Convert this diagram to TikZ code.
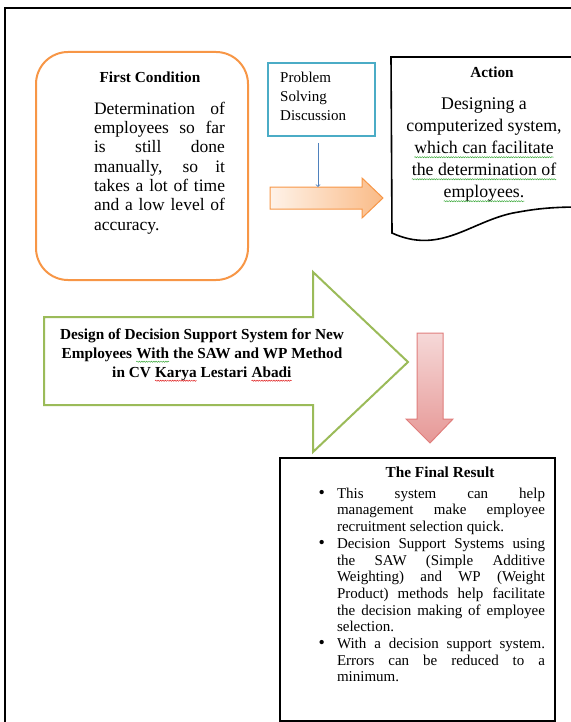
\documentclass[tikz,border=0pt]{standalone}
\usepackage{fontspec}
\setmainfont{Liberation Serif}
\usetikzlibrary{calc, positioning, decorations.pathmorphing}
\definecolor{condorange}{HTML}{F79646}
\definecolor{probblue}{HTML}{4BACC6}
\definecolor{linkblue}{HTML}{4F81BD}
\definecolor{designgreen}{HTML}{9BBB59}
\definecolor{resultred}{HTML}{E07E7C}
\definecolor{spellgreen}{HTML}{3DAA3D}
\definecolor{spellred}{HTML}{E02020}
\tikzset{
boxtitle/.style={font=\fontsize{15.3}{19}\selectfont\bfseries, inner sep=0pt},
% >=latex,
}
% justified line of a given width
\newcommand{\jline}[2]{\makebox[#1][s]{#2}}
\newcommand{\bline}[1]{\makebox[0pt][r]{{\fontsize{18}{16}\selectfont\textbullet}\hspace{12pt}}\jline{208pt}{#1}}
\newcommand{\spellmark}[2]{\tikz[baseline=(sw.base)]{\node[inner sep=0pt, outer sep=0pt] (sw) {#2};
\draw[#1, line width=.5pt, decorate, decoration={snake, amplitude=.6pt, segment length=2.4pt}] ([yshift=-3.5pt]sw.base west) -- ([yshift=-3.5pt]sw.base east);}}

\begin{document}
\begin{tikzpicture}[x=1pt, y=-1pt]
\useasboundingbox (0,0) rectangle (570,722);

% Frame
\draw[line width=2.8pt] (580,8) -- (5,8) -- (5,730);

% Nodes
\node (cond) at (142,166) [draw=condorange, line width=2pt, rounded corners=32pt, minimum width=212pt, minimum height=228pt] {};
\node (condtitle) at (150,77) [boxtitle] {First Condition};
\node (condtxt) at (159.5,168) [align=left, inner sep=0pt, font=\fontsize{17.5}{19.3}\selectfont] {\jline{131pt}{Determination of}\\ \jline{131pt}{employees so far}\\ \jline{131pt}{is still done}\\ \jline{131pt}{manually, so it}\\ \jline{131pt}{takes a lot of time}\\ \jline{131pt}{and a low level of}\\ accuracy.};

\node (prob) at (321.5,99.5) [draw=probblue, line width=2pt, minimum width=107pt, minimum height=73pt] {};
\node (probtxt) at (280,96) [anchor=west, align=left, inner sep=0pt, font=\fontsize{15}{19}\selectfont] {Problem\\ Solving\\ Discussion};

\draw[line width=1.6pt, fill=white] (391,57) -- (580,57) -- (580,207) .. controls (545,207) and (530,210) .. (513,213) .. controls (470,222) and (440,255) .. (392,233) -- cycle;
\node (acttitle) at (492,72) [boxtitle] {Action};
\node (acttxt) at (484,150) [align=center, inner sep=0pt, font=\fontsize{17.8}{22}\selectfont] {Designing a\\ computerized system,\\ \spellmark{spellgreen}{which can facilitate}\\ \spellmark{spellgreen}{the determination of}\\ \spellmark{spellgreen}{employees.}};

\draw[condorange, line width=1pt, left color=condorange!12, right color=condorange!65] (270,187) -- (362,187) -- (362,178) -- (383,198) -- (362,218) -- (362,209) -- (270,209) -- cycle;
\coordinate (orangetop) at (318,187);

\draw[designgreen, line width=2pt, fill=white] (44,317) -- (313,317) -- (313,272) -- (408,362) -- (313,452) -- (313,405) -- (44,405) -- cycle;
\node (design) at (202,355) [align=center, inner sep=0pt, font=\fontsize{15.3}{19}\selectfont\bfseries] {Design of Decision Support System for New\\ Employees \spellmark{spellgreen}{With} the SAW and WP Method\\ in CV \spellmark{spellred}{Karya} Lestari \spellmark{spellred}{Abadi}};

\draw[resultred, line width=1pt, top color=resultred!30, bottom color=resultred!80] (417,333) -- (443,333) -- (443,419) -- (453,419) -- (430,443) -- (406,419) -- (417,419) -- cycle;

\node (result) at (417.5,589.5) [draw, line width=2pt, minimum width=275pt, minimum height=263pt] {};
\node (restitle) at (440,472) [boxtitle] {The Final Result};
\node (restxt) at (441,585) [align=left, inner sep=0pt, font=\fontsize{15}{16.7}\selectfont] {\bline{This system can help}\\ \jline{208pt}{management make employee}\\ recruitment selection quick.\\ \bline{Decision Support Systems using}\\ \jline{208pt}{the SAW (Simple Additive}\\ \jline{208pt}{Weighting) and WP (Weight}\\ \jline{208pt}{Product) methods help facilitate}\\ \jline{208pt}{the decision making of employee}\\ selection.\\ \bline{With a decision support system.}\\ \jline{208pt}{Errors can be reduced to a}\\ minimum.};

% Connectors
\begin{scope}[->]
\draw [->, linkblue, line width=.8pt, shorten <=6pt] (prob.south -| orangetop) -- (orangetop);
\end{scope}

\end{tikzpicture}
\end{document}
